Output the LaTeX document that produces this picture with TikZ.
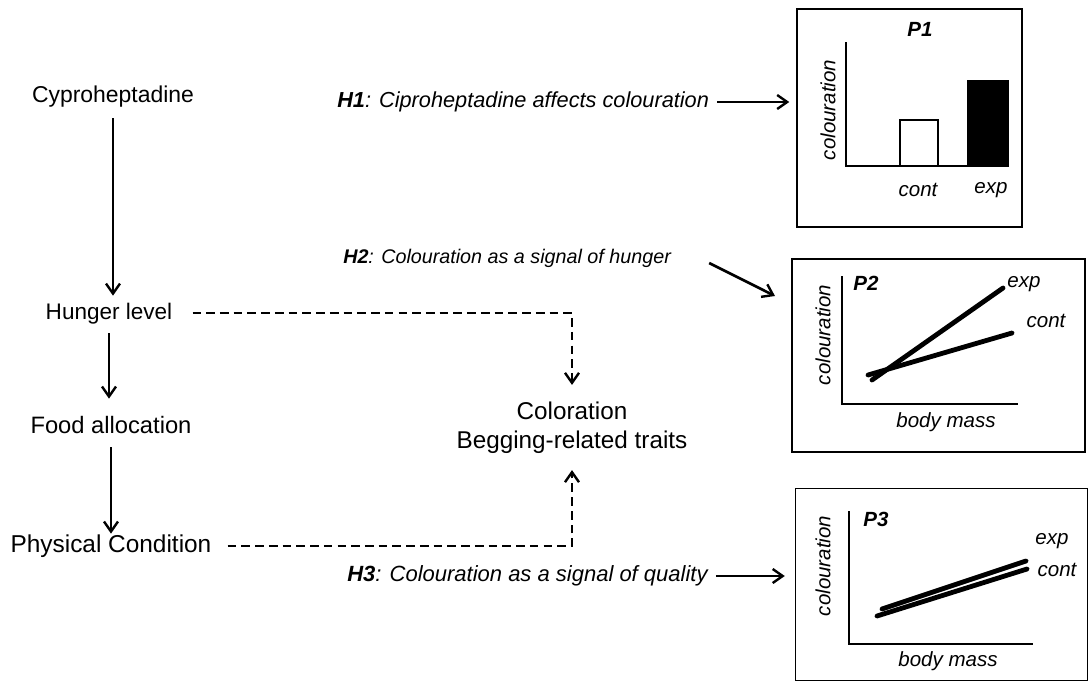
\documentclass[tikz,border=0pt]{standalone}
\usepackage{fontspec}
\setmainfont{Liberation Sans}
\usetikzlibrary{arrows.meta}
\begin{document}
\begin{tikzpicture}[x=0.75pt,y=-0.75pt,
  lbl/.style={inner sep=0pt, text height=12.4pt, text depth=3.4pt},
  htxt/.style={inner sep=0pt, anchor=west},
  ptxt/.style={inner sep=0pt, font=\fontsize{15.4}{18}\selectfont\itshape},
  ptitle/.style={inner sep=0pt, font=\fontsize{15.4}{18}\selectfont\bfseries\itshape},
  flow/.style={line width=2pt, -{Straight Barb[length=7.5pt,width=10.5pt,line width=1.8pt]}},
  dflow/.style={flow, dash pattern=on 6.5pt off 3.8pt},
  pbox/.style={draw, line width=1.1pt, inner sep=0pt},
  axis/.style={line width=1pt},
  curve/.style={line width=3.6pt, line cap=round},
]
\useasboundingbox (0,0) rectangle (1089,683);

% left chain
\node[lbl, font=\fontsize{17.2}{21.75}\selectfont] (cyp) at (113,96) {Cyproheptadine};
\node[lbl, font=\fontsize{16.9}{21.75}\selectfont] (hun) at (109,313) {Hunger level};
\node[lbl, font=\fontsize{17.8}{21.75}\selectfont] (food) at (111,427) {Food allocation};
\node[lbl, font=\fontsize{18.3}{21.75}\selectfont] (phys) at (111,546) {Physical Condition};
\node[inner sep=0pt, align=center, font=\fontsize{18.2}{21.75}\selectfont] (col) at (572,428) {Coloration\\Begging-related traits};

\draw[flow, shorten <=8.5pt, shorten >=13pt] (cyp) -- (cyp |- hun);
\draw[flow, shorten <=7pt, shorten >=21.3pt] (hun) -- (hun |- food);
\draw[flow, shorten <=7pt, shorten >=9.3pt] (food) -- (food |- phys);

\draw[dflow, shorten <=15pt, shorten >=12.75pt] (hun.east) -| (col.north);
\draw[dflow, shorten <=12pt, shorten >=12pt] (phys.east) -| (col.south);

% hypotheses
\node[htxt, font=\fontsize{16.3}{18}\selectfont\itshape] (h1) at (337,102) {\textbf{H1}: Ciproheptadine affects colouration};
\node[htxt, font=\fontsize{14.8}{18}\selectfont\itshape] (h2) at (343,258) {\textbf{H2}: Colouration as a signal of hunger};
\node[htxt, font=\fontsize{16.5}{18}\selectfont\itshape] (h3) at (347,576) {\textbf{H3}: Colouration as a signal of quality};

% prediction boxes
\node[pbox, minimum width=168.75pt, minimum height=163.5pt] (p1) at (909.5,118) {};
\node[pbox, minimum width=219.75pt, minimum height=144.75pt] (p2) at (938.5,355.5) {};
\node[pbox, minimum width=219pt, minimum height=144pt] (p3) at (941.5,584.5) {};

\coordinate (h2tip) at (775,296);
\draw[flow, shorten >=5.25pt] ([xshift=6pt]h1.east) -- (h1.east -| p1.west);
\draw[flow] (h2.east) ++(38,5) -- (h2tip);
\draw[flow, shorten >=7.5pt] ([xshift=6pt]h3.east) -- (h3.east -| p3.west);

% P1
\node[ptitle] (p1t) at (920,29) {P1};
\node[ptxt, rotate=90] (p1y) at (828,110) {colouration};
\draw[axis] (846,42) -- (846,166) -- (1002,166);
\draw[line width=1.3pt] (900,166) rectangle (938,120);
\draw[line width=1.3pt, fill=black] (968,166) rectangle (1008,81);
\node[ptxt] (p1c) at (918,190) {cont};
\node[ptxt] (p1e) at (991,190) {exp};

% P2
\node[ptitle] (p2t) at (866,283) {P2};
\node[ptxt, rotate=90] (p2y) at (823,335) {colouration};
\draw[axis] (842,276) -- (842,404) -- (1018,404);
\draw[curve] (872,380) -- (1003,288);
\draw[curve] (868,375) -- (1012,333);
\node[ptxt] (p2e) at (1024,284) {exp};
\node[ptxt] (p2c) at (1046,321) {cont};
\node[ptxt] (p2x) at (946,422) {body mass};

% P3
\node[ptitle] (p3t) at (876,519) {P3};
\node[ptxt, rotate=90] (p3y) at (823,566) {colouration};
\draw[axis] (849,511) -- (849,644) -- (1033,644);
\draw[curve] (882,609) -- (1026,561);
\draw[curve] (877,616) -- (1027,569);
\node[ptxt] (p3e) at (1052,541) {exp};
\node[ptxt] (p3c) at (1057,570) {cont};
\node[ptxt] (p3x) at (948,661) {body mass};
\end{tikzpicture}
\end{document}
